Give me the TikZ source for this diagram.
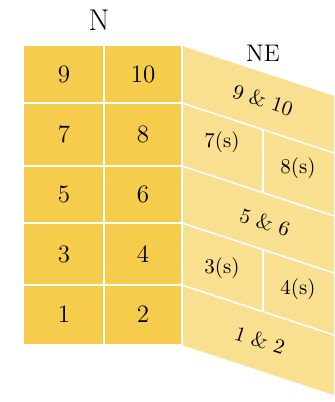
\documentclass[tikz,border=0pt]{standalone}
\usepackage{tikz}
\definecolor{frontgold}{RGB}{245,204,76}
\definecolor{sidegold}{RGB}{249,223,144}

\begin{document}
\begin{tikzpicture}[x=0.5pt, y=-0.5pt,
  sep/.style={draw=white, line width=0.8pt},
  num/.style={font=\fontsize{12.5}{14}\selectfont},
  lab/.style={font=\fontsize{10.5}{12}\selectfont},
  slant/.style={lab, rotate=-18}
]
\useasboundingbox (0,0) rectangle (334,402);
% -- faces ------------------------------
\fill[frontgold] (24,46) rectangle (182,344);
\fill[sidegold] (182,46) -- (334,96) -- (334,395) -- (182,345) -- cycle;
% -- dividers ---------------------------
\foreach \y in {103,166,223,285} {
  \draw[sep] (24,\y) -- (182,\y);
  \draw[sep] (182,\y) -- (334,\y+50);
}
\draw[sep] (104,46) -- (104,344);
\draw[sep] (182,46) -- (182,345);
\draw[sep] (263,129.6) -- (263,192.6);
\draw[sep] (263,249.6) -- (263,311.6);
% -- front labels -----------------------
\node[font=\fontsize{15}{16}\selectfont] (north) at (99,20) {N};
\foreach \lo/\hi/\y in {1/2/314.5, 3/4/254, 5/6/194.5, 7/8/134.5, 9/10/74.5} {
  \node[num] (c\lo) at (64,\y) {\lo};
  \node[num] (c\hi) at (143,\y) {\hi};
}
% -- side labels ------------------------
\node[font=\fontsize{12}{14}\selectfont] (northeast) at (263,53) {NE};
\node[slant] (s910) at (263,100) {9 \& 10};
\node[lab] (s7) at (222,142) {7(s)};
\node[lab] (s8) at (298,168) {8(s)};
\node[slant] (s56) at (265,222) {5 \& 6};
\node[lab] (s3) at (222,268) {3(s)};
\node[lab] (s4) at (298,289) {4(s)};
\node[slant] (s12) at (260,340) {1 \& 2};
\end{tikzpicture}
\end{document}
